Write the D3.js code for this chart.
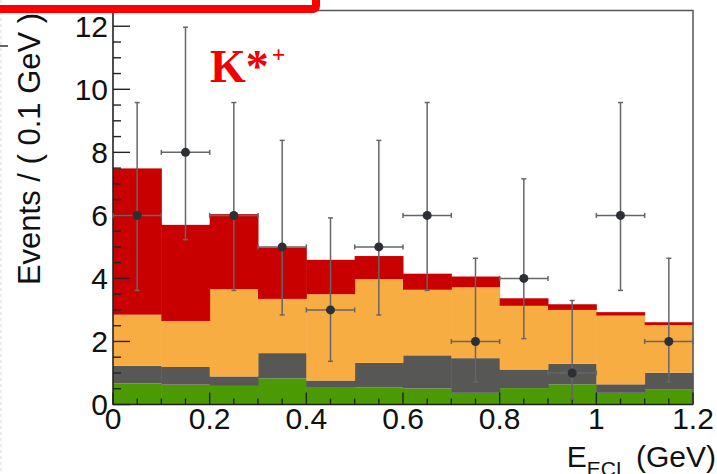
<!DOCTYPE html>
<html>
<head>
<meta charset="utf-8">
<script src="https://cdn.jsdelivr.net/npm/d3@7"></script>
<style>
  html, body { margin: 0; padding: 0; background: #ffffff; }
  svg { display: block; }
</style>
</head>
<body>
<svg id="chart" width="717" height="474"></svg>
<script>
// Bin lower edges (GeV), bin width 0.1
const binEdges = [0.0, 0.1, 0.2, 0.3, 0.4, 0.5, 0.6, 0.7, 0.8, 0.9, 1.0, 1.1];
const binWidth = 0.1;

// Stacked fit components per bin (bottom to top)
const greenComp  = [0.67, 0.63, 0.59, 0.83, 0.53, 0.54, 0.51, 0.37, 0.52, 0.64, 0.37, 0.47];
const grayComp   = [0.56, 0.56, 0.30, 0.80, 0.23, 0.78, 1.05, 1.10, 0.59, 0.65, 0.27, 0.54];
const orangeComp = [1.62, 1.46, 2.77, 1.72, 2.74, 2.66, 2.08, 2.25, 2.02, 1.71, 2.18, 1.51];
const redComp    = [4.64, 3.05, 2.38, 1.63, 1.09, 0.73, 0.51, 0.34, 0.24, 0.18, 0.11, 0.09];

// Observed events per bin with asymmetric (Poisson) error limits
const dataCounts = [6, 8, 6, 5, 3, 5, 6, 2, 4, 1, 6, 2];
const dataLow    = [3.62, 5.23, 3.62, 2.84, 1.37, 2.84, 3.62, 0.71, 2.09, 0.17, 3.62, 0.71];
const dataHigh   = [9.58, 11.97, 9.58, 8.38, 5.92, 8.38, 9.58, 4.64, 7.16, 3.30, 9.58, 4.64];

// Axis ticks
const xTickLabels = [0, 0.2, 0.4, 0.6, 0.8, 1, 1.2];
const yTickLabels = [0, 2, 4, 6, 8, 10, 12];

const svg = d3.select("#chart");
const plot = { left: 113, right: 693, top: 10.5, bottom: 404.5 };

const x = d3.scaleLinear().domain([0, 1.2]).range([plot.left, plot.right]);
const y = d3.scaleLinear().domain([0, 12.5]).range([plot.bottom, plot.top]);

const colors = { green: "#4b9a03", gray: "#575856", orange: "#f8ad43", red: "#c90000" };
const keys = ["green", "gray", "orange", "red"];

const rows = binEdges.map((e, i) => ({
  edge: e,
  green: greenComp[i], gray: grayComp[i], orange: orangeComp[i], red: redComp[i]
}));
const stacked = d3.stack().keys(keys)(rows);

// Stacked histogram
const layers = svg.append("g");
stacked.forEach(layer => {
  layers.append("g")
    .attr("fill", colors[layer.key])
    .selectAll("rect")
    .data(layer)
    .join("rect")
      .attr("x", d => x(d.data.edge))
      .attr("width", d => x(d.data.edge + binWidth) - x(d.data.edge) + 0.5)
      .attr("y", d => y(d[1]))
      .attr("height", d => y(d[0]) - y(d[1]));
});

// Frame (top and right)
svg.append("path")
  .attr("d", `M${plot.left},${plot.top}H${plot.right}V${plot.bottom}`)
  .attr("fill", "none").attr("stroke", "#555").attr("stroke-width", 1.5);

// Y axis with inward ticks
const yAxis = svg.append("g").attr("transform", `translate(${plot.left},0)`);
yAxis.append("line").attr("y1", plot.top).attr("y2", plot.bottom + 0.5)
  .attr("stroke", "#222").attr("stroke-width", 1.6);
const yMinor = d3.range(0, 12.01, 0.5);
yAxis.selectAll("line.tick").data(yMinor).join("line")
  .attr("class", "tick")
  .attr("x1", 0)
  .attr("x2", d => (Math.abs(d % 2) < 1e-9 ? 17 : 8))
  .attr("y1", d => y(d)).attr("y2", d => y(d))
  .attr("stroke", "#222").attr("stroke-width", 1.4);
yAxis.selectAll("text").data(yTickLabels).join("text")
  .attr("x", -5)
  .attr("y", d => y(d) + 10.5)
  .attr("text-anchor", "end")
  .attr("font-family", "'Liberation Sans', Arial, sans-serif")
  .attr("font-size", 30)
  .attr("fill", "#111")
  .text(d => d);

// X axis with inward ticks
const xAxis = svg.append("g").attr("transform", `translate(0,${plot.bottom})`);
xAxis.append("line").attr("x1", plot.left).attr("x2", plot.right)
  .attr("stroke", "#222").attr("stroke-width", 1.6);
const xMinor = d3.range(0, 1.2001, 0.05);
xAxis.selectAll("line.tick").data(xMinor).join("line")
  .attr("class", "tick")
  .attr("x1", d => x(d)).attr("x2", d => x(d))
  .attr("y1", 0)
  .attr("y2", d => (Math.abs(Math.round(d * 100) % 20) === 0 ? -12 : -6))
  .attr("stroke", "#222").attr("stroke-width", 1.4);
xAxis.selectAll("text").data(xTickLabels).join("text")
  .attr("x", d => x(d))
  .attr("y", 24)
  .attr("text-anchor", "middle")
  .attr("font-family", "'Liberation Sans', Arial, sans-serif")
  .attr("font-size", 30)
  .attr("fill", "#111")
  .text(d => d);

// Data points with error bars
const pts = svg.append("g");
dataCounts.forEach((n, i) => {
  const cx = x(binEdges[i] + binWidth / 2);
  const g = pts.append("g");
  g.append("line")
    .attr("x1", x(binEdges[i])).attr("x2", x(binEdges[i] + binWidth))
    .attr("y1", y(n)).attr("y2", y(n))
    .attr("stroke", "#666").attr("stroke-width", 1.5);
  [binEdges[i], binEdges[i] + binWidth].forEach(e => {
    g.append("line")
      .attr("x1", x(e)).attr("x2", x(e))
      .attr("y1", y(n) - 2.5).attr("y2", y(n) + 2.5)
      .attr("stroke", "#666").attr("stroke-width", 1.5);
  });
  g.append("line")
    .attr("x1", cx).attr("x2", cx)
    .attr("y1", y(dataLow[i])).attr("y2", y(dataHigh[i]))
    .attr("stroke", "#666").attr("stroke-width", 1.5);
  [dataLow[i], dataHigh[i]].forEach(v => {
    g.append("line")
      .attr("x1", cx - 2.5).attr("x2", cx + 2.5)
      .attr("y1", y(v)).attr("y2", y(v))
      .attr("stroke", "#666").attr("stroke-width", 1.5);
  });
  g.append("circle")
    .attr("cx", cx).attr("cy", y(n)).attr("r", 4.5)
    .attr("fill", "#2c3034");
});

// Channel label
const lab = svg.append("text")
  .attr("x", 210).attr("y", 82)
  .attr("font-family", "'Liberation Serif', 'Times New Roman', serif")
  .attr("font-weight", "bold")
  .attr("font-size", 46)
  .attr("fill", "#f20000");
lab.append("tspan").text("K*");
lab.append("tspan").attr("font-size", 24).attr("dy", -20).attr("dx", 3).text("+");

// Axis titles
svg.append("text")
  .attr("transform", "translate(40,149) rotate(-90)")
  .attr("text-anchor", "middle")
  .attr("font-family", "'Liberation Sans', Arial, sans-serif")
  .attr("font-size", 31)
  .attr("fill", "#111")
  .text("Events / ( 0.1 GeV )");

const xt = svg.append("text")
  .attr("x", 716).attr("y", 467)
  .attr("text-anchor", "end")
  .attr("font-family", "'Liberation Sans', Arial, sans-serif")
  .attr("font-size", 30)
  .attr("fill", "#111");
xt.append("tspan").text("E");
xt.append("tspan").attr("font-size", 21).attr("dy", 9).text("ECL");
xt.append("tspan").attr("dy", -9).text(" (GeV)");

// Neighbouring panel edge and box outline along the top-left
svg.append("line")
  .attr("x1", 1).attr("x2", 1).attr("y1", 0).attr("y2", 474)
  .attr("stroke", "#d8d8d8").attr("stroke-width", 1).attr("stroke-dasharray", "3,3");
svg.append("line")
  .attr("x1", 0).attr("x2", 8).attr("y1", 46).attr("y2", 46)
  .attr("stroke", "#333").attr("stroke-width", 1.5);
svg.append("rect")
  .attr("x", -20).attr("y", -60).attr("width", 336).attr("height", 69)
  .attr("rx", 3)
  .attr("fill", "none").attr("stroke", "#ff0000").attr("stroke-width", 8);
</script>
</body>
</html>
